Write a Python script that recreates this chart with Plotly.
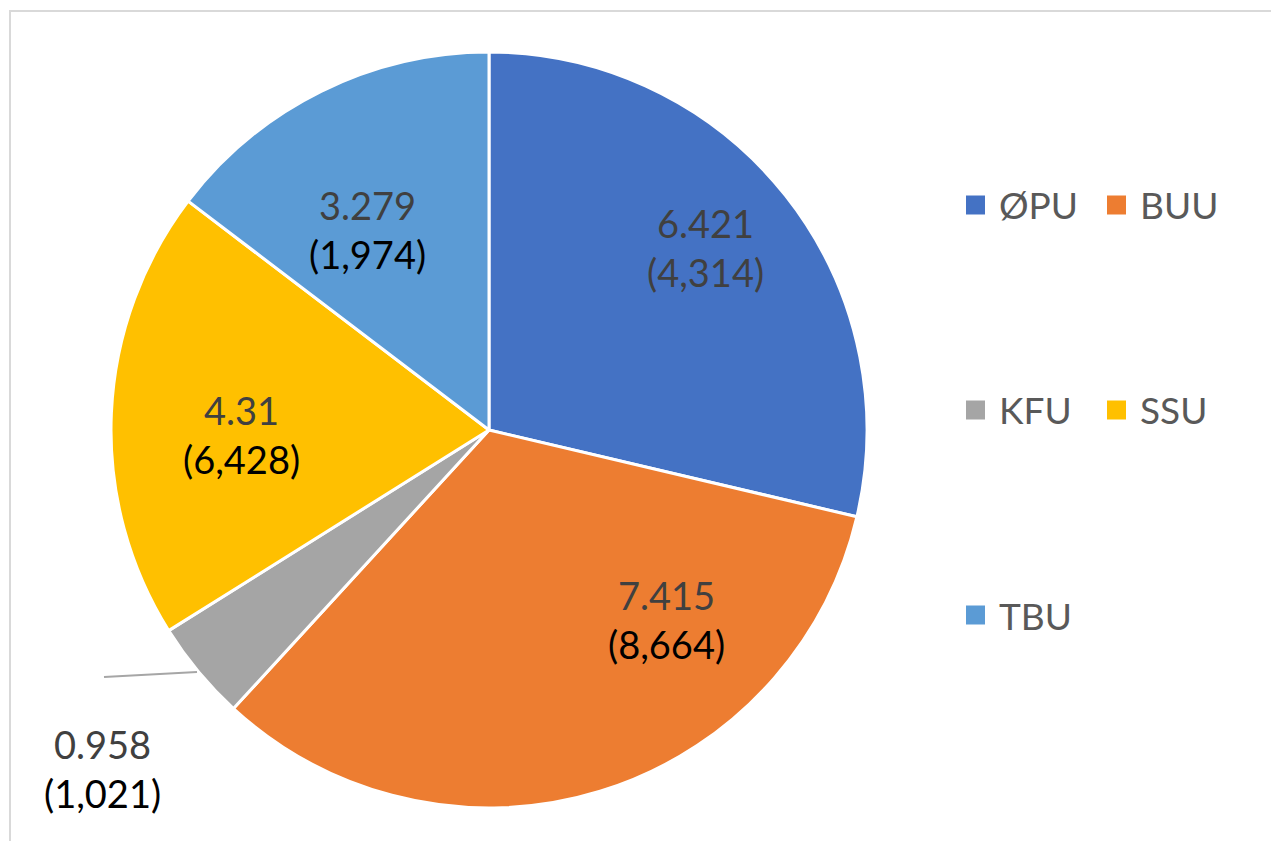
import plotly.graph_objects as go

# ---- data ----
categories = ["ØPU", "BUU", "KFU", "SSU", "TBU"]
values = [6.421, 7.415, 0.958, 4.31, 3.279]
counts = ["4,314", "8,664", "1,021", "6,428", "1,974"]
colors = ["#4472C4", "#ED7D31", "#A5A5A5", "#FFC000", "#5B9BD5"]
count_colors = ["#404040", "#000000", "#000000", "#000000", "#000000"]

# the page body has an 8px margin; work in window pixels and shift
OFF = 8
W, H = 1279 - OFF, 841 - OFF
FONT = "Lato, Open Sans, sans-serif"

def px(x):
    return (x - OFF) / W

def py(y):
    return 1 - (y - OFF) / H

# pie geometry (window pixels)
cx, cy, R = 489, 430, 378

fig = go.Figure()
fig.add_trace(go.Pie(
    labels=categories,
    values=values,
    sort=False,
    direction="clockwise",
    rotation=0,
    textinfo="none",
    marker=dict(colors=colors, line=dict(color="#FFFFFF", width=3)),
    domain=dict(x=[px(cx - R), px(cx + R)], y=[py(cy + R), py(cy - R)]),
    showlegend=False,
    hoverinfo="label+value",
))

# data label positions (window pixel centers, Excel "best fit" placement)
label_pos = [(705, 247), (667, 619), (103, 768), (241, 434), (367, 229)]

annotations = []
for cat, v, c, cc, (lx, ly) in zip(categories, values, counts, count_colors, label_pos):
    annotations.append(dict(
        x=px(lx), y=py(ly), xref="paper", yref="paper",
        xanchor="center", yanchor="middle", showarrow=False,
        text=f"{v:g}<br><span style='color:{cc}'>({c})</span>",
        font=dict(family=FONT, size=38, color="#404040"),
        align="center",
    ))

shapes = []
# leader line for the small KFU slice
shapes.append(dict(type="line", xref="paper", yref="paper",
                   x0=px(104), y0=py(677), x1=px(197), y1=py(672),
                   line=dict(color="#A6A6A6", width=2)))
# chart-area border
shapes.append(dict(type="rect", xref="paper", yref="paper",
                   x0=px(10), y0=-0.05, x1=1.05, y1=py(11),
                   line=dict(color="#D9D9D9", width=2), fillcolor="rgba(0,0,0,0)"))

# manual two-column legend
for i, (cat, col) in enumerate(zip(categories, colors)):
    c, r = i % 2, i // 2
    mx = 966 + c * 141
    my = 205 + r * 205
    shapes.append(dict(type="rect", xref="paper", yref="paper",
                       x0=px(mx), x1=px(mx + 19), y0=py(my + 9.5), y1=py(my - 9.5),
                       line=dict(width=0), fillcolor=col))
    annotations.append(dict(
        x=px(mx + 31), y=py(my), xref="paper", yref="paper",
        xanchor="left", yanchor="middle", showarrow=False,
        text=cat, font=dict(family=FONT, size=37, color="#595959"),
    ))

fig.update_layout(
    width=W, height=H,
    margin=dict(l=0, r=0, t=0, b=0),
    paper_bgcolor="#FFFFFF",
    plot_bgcolor="#FFFFFF",
    annotations=annotations,
    shapes=shapes,
    showlegend=False,
)

fig.write_html("out.html")
